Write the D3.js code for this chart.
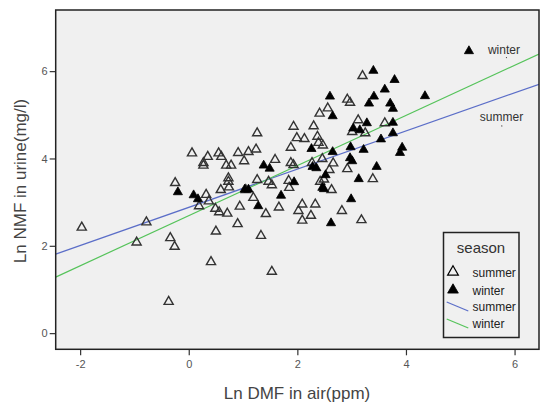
<!DOCTYPE html>
<html><head><meta charset="utf-8">
<script src="https://cdn.jsdelivr.net/npm/d3@7"></script>
<style>body{margin:0;background:#fff}svg{display:block;font-family:"Liberation Sans",Arial,sans-serif}</style>
</head><body><div id="chart"></div>
<script>
const seasons = ["summer", "winter"];
const summerX = [-1.97,-0.78,-0.96,-0.37,-0.34,-0.26,-0.25,0.06,0.27,0.27,0.35,0.32,0.37,0.19,0.41,0.50,0.49,0.56,0.55,0.60,0.59,0.71,0.69,0.73,0.73,0.74,0.78,0.91,0.94,0.90,1.02,1.10,1.05,1.19,1.24,1.26,1.26,1.33,1.42,1.47,1.53,1.53,1.59,1.66,1.84,1.85,1.88,1.88,1.93,1.93,1.99,2.02,2.09,2.09,2.13,2.25,2.30,2.33,2.27,2.37,2.39,2.41,2.42,2.46,2.47,2.49,2.56,2.59,2.63,2.66,2.82,2.92,2.92,2.97,3.01,3.12,3.20,3.18,3.25,3.39,3.61];
const summerY = [2.42,2.54,2.08,0.72,2.18,1.98,3.44,4.12,3.90,3.84,4.04,3.17,3.02,2.91,1.63,2.33,2.85,2.77,4.12,4.04,3.28,2.74,3.84,3.55,3.47,3.34,3.84,4.13,2.90,2.50,3.94,4.15,3.28,3.10,4.21,4.58,3.51,2.23,2.73,3.47,3.39,1.41,3.97,2.88,3.49,3.33,3.90,4.25,4.73,3.85,4.47,2.80,2.95,2.58,4.45,2.69,4.74,2.95,3.90,4.50,4.36,5.03,3.47,3.99,4.30,3.52,5.15,3.74,3.28,3.89,2.80,5.35,3.76,5.28,4.61,4.88,5.89,2.59,4.58,3.53,4.81];
const winterX = [-0.20,0.09,0.17,1.28,1.38,1.49,1.03,1.10,1.70,1.94,2.26,2.28,2.35,2.52,2.46,2.49,2.60,2.65,2.65,2.62,2.98,2.97,3.01,2.99,3.03,3.15,3.28,3.32,3.41,3.40,3.22,3.13,3.46,3.54,3.61,3.71,3.76,3.76,3.76,3.79,3.93,3.89,4.35,5.16];
const winterY = [3.23,3.16,3.07,2.91,3.84,3.77,3.29,3.29,3.15,3.46,4.22,3.81,3.78,3.62,3.33,3.30,5.42,4.97,4.15,2.52,4.26,4.01,3.94,3.07,4.69,4.65,4.81,5.26,5.42,6.01,4.20,3.53,3.81,4.44,5.58,5.26,5.14,4.82,4.58,5.80,4.25,4.13,5.43,6.46];
const fitIntercepts = [2.88, 2.69];
const fitSlopes = [0.437, 0.574];
const xTicks = [-2, 0, 2, 4, 6];
const yTicks = [0, 2, 4, 6];
const fitLabels = ["summer", "winter"];
const fitLabelPos = [[5.36, 4.86], [5.51, 6.39]];

const W = 540, H = 403;
const svg = d3.select("#chart").append("svg").attr("width", W).attr("height", H);
const x = d3.scaleLinear().domain([-2.45, 6.45]).range([55.7, 539]);
const y = d3.scaleLinear().domain([-0.37, 7.4]).range([349.3, 10]);
const colors = {summer: "#5b6ec8", winter: "#55c35a"};

svg.append("rect").attr("x", 55.7).attr("y", 10).attr("width", 539 - 55.7).attr("height", 349.3 - 10).attr("fill", "#f0f0f0");
svg.append("clipPath").attr("id", "clip").append("rect").attr("x", 55.7).attr("y", 10).attr("width", 539 - 55.7).attr("height", 349.3 - 10);

const xAxis = svg.append("g").attr("transform", "translate(0,349.3)").call(d3.axisBottom(x).tickValues(xTicks).tickSize(6).tickSizeOuter(0).tickFormat(d => d));
const yAxis = svg.append("g").attr("transform", "translate(55.7,0)").call(d3.axisLeft(y).tickValues(yTicks).tickSize(6).tickSizeOuter(0).tickFormat(d => d));
[xAxis, yAxis].forEach(g => {
  g.select(".domain").remove();
  g.selectAll(".tick line").attr("stroke", "#333").attr("stroke-width", 1.2);
  g.selectAll(".tick text").attr("fill", "#555").attr("font-size", 11).attr("font-family", "Liberation Sans, Arial, sans-serif");
});
xAxis.selectAll(".tick text").attr("dy", "0.95em").attr("y", 8);
yAxis.selectAll(".tick text").attr("x", -8);

const fits = seasons.map((s, i) => ({s, a: fitIntercepts[i], b: fitSlopes[i]}));
const lineGen = d3.line().x(d => x(d[0])).y(d => y(d[1]));
svg.append("g").attr("clip-path", "url(#clip)").selectAll("path").data(fits).join("path")
  .attr("d", f => lineGen(x.domain().map(v => [v, f.a + f.b * v])))
  .attr("fill", "none").attr("stroke", f => colors[f.s]).attr("stroke-width", 1.2);

const tri = d3.symbol().type(d3.symbolTriangle).size(36);
const pts = [];
summerX.forEach((v, i) => pts.push({s: "summer", x: v, y: summerY[i]}));
winterX.forEach((v, i) => pts.push({s: "winter", x: v, y: winterY[i]}));
svg.append("g").selectAll("path").data(pts).join("path")
  .attr("d", tri)
  .attr("transform", d => `translate(${x(d.x)},${y(d.y)})`)
  .attr("fill", d => d.s === "winter" ? "#000" : "none")
  .attr("stroke", d => d.s === "winter" ? "#000" : "#333")
  .attr("stroke-width", d => d.s === "winter" ? 0.8 : 1.4);

fitLabels.forEach((t, i) => {
  const px = x(fitLabelPos[i][0]), py = y(fitLabelPos[i][1]);
  svg.append("text").attr("x", px).attr("y", py).attr("font-size", 12).attr("fill", "#333").text(t);
  svg.append("circle").attr("cx", px + (i === 0 ? 22 : 18.5)).attr("cy", py + (i === 0 ? 5 : 3.5)).attr("r", 0.6).attr("fill", "#333");
});

svg.append("rect").attr("x", 55.7).attr("y", 10).attr("width", 539 - 55.7).attr("height", 349.3 - 10)
  .attr("fill", "none").attr("stroke", "#222").attr("stroke-width", 1.5);

svg.append("text").attr("x", 297).attr("y", 399).attr("text-anchor", "middle").attr("font-size", 17).attr("fill", "#444").text("Ln DMF in air(ppm)");
svg.append("text").attr("transform", "translate(26,181) rotate(-90)").attr("text-anchor", "middle").attr("font-size", 17).attr("fill", "#444").text("Ln NMF in urine(mg/l)");

const lg = svg.append("g");
lg.append("rect").attr("x", 443.5).attr("y", 232.5).attr("width", 75.5).attr("height", 105).attr("fill", "#f0f0f0").attr("stroke", "#222").attr("stroke-width", 1.5);
lg.append("text").attr("x", 481).attr("y", 253).attr("text-anchor", "middle").attr("font-size", 15).attr("fill", "#333").text("season");
seasons.forEach((s, i) => {
  const cy = 272 + i * 18;
  lg.append("path").attr("d", d3.symbol().type(d3.symbolTriangle).size(50)).attr("transform", `translate(453,${cy})`)
    .attr("fill", s === "winter" ? "#000" : "none").attr("stroke", "#000").attr("stroke-width", s === "winter" ? 0.8 : 1.2);
  lg.append("text").attr("x", 472.5).attr("y", cy + 5).attr("font-size", 12).attr("fill", "#222").text(s);
});
seasons.forEach((s, i) => {
  const cy = 306 + i * 17;
  lg.append("line").attr("x1", 446.7).attr("y1", cy - 4).attr("x2", 468.3).attr("y2", cy + 5)
    .attr("stroke", colors[s]).attr("stroke-width", 1.2);
  lg.append("text").attr("x", 472.5).attr("y", cy + 5).attr("font-size", 12).attr("fill", "#222").text(s);
});
</script></body></html>
